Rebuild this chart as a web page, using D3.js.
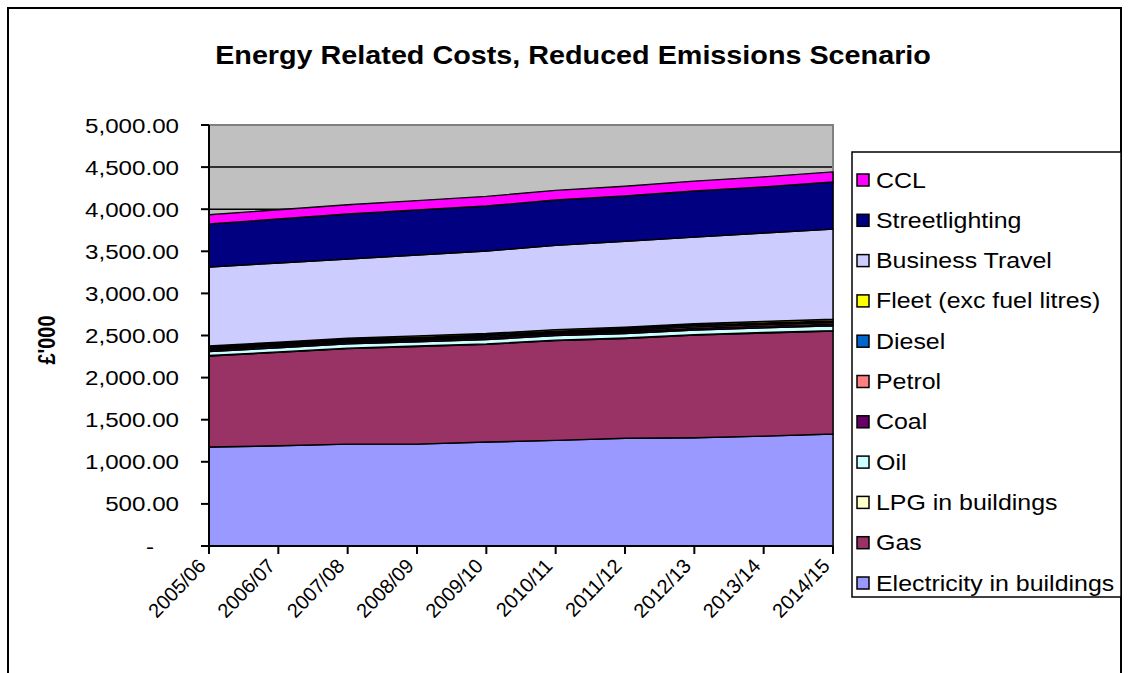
<!DOCTYPE html>
<html>
<head>
<meta charset="utf-8">
<script src="https://cdn.jsdelivr.net/npm/d3@7"></script>
<style>
  html, body { margin: 0; padding: 0; background: #fff; }
  svg { display: block; }
  text { font-family: "Liberation Sans", Arial, sans-serif; fill: #000; }
</style>
</head>
<body>
<svg id="chart" width="1129" height="673"></svg>
<script>
// Financial years on the category axis
const years = ["2005/06","2006/07","2007/08","2008/09","2009/10","2010/11","2011/12","2012/13","2013/14","2014/15"];

// Cost per energy source, £'000 (stacked bottom to top)
const electricity    = [1175, 1190, 1210, 1210, 1235, 1255, 1280, 1285, 1305, 1330];
const gas            = [1082, 1110, 1135, 1160, 1160, 1185, 1185, 1220, 1225, 1223];
const lpg            = [5, 5, 5, 5, 5, 5, 5, 5, 5, 5];
const oil            = [48, 49, 50, 51, 52, 53, 54, 55, 56, 57];
const coal           = [20, 20, 20, 20, 20, 20, 20, 20, 20, 20];
const petrol         = [15, 15, 16, 16, 17, 17, 18, 18, 19, 19];
const diesel         = [15, 15, 16, 16, 17, 17, 18, 18, 19, 19];
const fleet          = [15, 16, 16, 17, 17, 18, 18, 19, 19, 20];
const businessTravel = [938, 941, 940, 961, 980, 1000, 1022, 1028, 1049, 1070];
const streetlighting = [511, 522, 535, 534, 535, 539, 537, 548, 547, 560];
const ccl            = [110, 110, 110, 112, 114, 115, 116, 118, 120, 120];

const seriesNames = ["Electricity in buildings","Gas","LPG in buildings","Oil","Coal","Petrol","Diesel","Fleet (exc fuel litres)","Business Travel","Streetlighting","CCL"];
const seriesValues = [electricity, gas, lpg, oil, coal, petrol, diesel, fleet, businessTravel, streetlighting, ccl];
const seriesColors = ["#9999FF","#993366","#FFFFCC","#CCFFFF","#660066","#FF8080","#0066CC","#FFFF00","#CCCCFF","#000080","#FF00FF"];

// Axis ticks
const yTicks = [0, 500, 1000, 1500, 2000, 2500, 3000, 3500, 4000, 4500, 5000];
const yMax = 5000;

const title = "Energy Related Costs, Reduced Emissions Scenario";
const yTitle = "£'000";

// Horizontal stretch applied to upright lettering
const SX = 1.15;

const svg = d3.select("#chart");

// Outer chart frame
svg.append("rect")
  .attr("x", 8).attr("y", 8).attr("width", 1113).attr("height", 700)
  .attr("fill", "#fff").attr("stroke", "#000").attr("stroke-width", 2);

const plot = { left: 209, right: 833, top: 125, bottom: 546 };

const x = d3.scalePoint().domain(years).range([plot.left, plot.right]);
const y = d3.scaleLinear().domain([0, yMax]).range([plot.bottom, plot.top]);

// Plot background
svg.append("rect")
  .attr("x", plot.left).attr("y", plot.top)
  .attr("width", plot.right - plot.left).attr("height", plot.bottom - plot.top)
  .attr("fill", "#C0C0C0");

// Gridlines
svg.append("g").selectAll("line")
  .data(yTicks.filter(v => v > 0 && v < yMax))
  .join("line")
  .attr("x1", plot.left).attr("x2", plot.right)
  .attr("y1", d => y(d)).attr("y2", d => y(d))
  .attr("stroke", "#000").attr("stroke-width", 1.5);

// Plot border (top and right)
svg.append("path")
  .attr("d", `M${plot.left},${y(yMax)}H${plot.right}V${plot.bottom}`)
  .attr("fill", "none").attr("stroke", "#808080").attr("stroke-width", 2);

// Stacked areas
const table = years.map((yr, i) => {
  const row = { year: yr };
  seriesNames.forEach((n, k) => { row[n] = seriesValues[k][i]; });
  return row;
});
const stack = d3.stack().keys(seriesNames);
const layers = stack(table);

const area = d3.area()
  .x(d => x(d.data.year))
  .y0(d => y(d[0]))
  .y1(d => y(d[1]));

svg.append("g").selectAll("path")
  .data(layers)
  .join("path")
  .attr("d", area)
  .attr("fill", (d, i) => seriesColors[i])
  .attr("stroke", "#000")
  .attr("stroke-width", 1.4)
  .attr("stroke-linejoin", "round");

// Y axis
const yAxis = svg.append("g");
yAxis.append("line")
  .attr("x1", plot.left).attr("x2", plot.left)
  .attr("y1", plot.top).attr("y2", plot.bottom)
  .attr("stroke", "#000").attr("stroke-width", 2);
yAxis.selectAll("line.tick")
  .data(yTicks).join("line").attr("class", "tick")
  .attr("x1", plot.left - 8).attr("x2", plot.left)
  .attr("y1", d => y(d)).attr("y2", d => y(d))
  .attr("stroke", "#000").attr("stroke-width", 2);
const fmt = d3.format(",.2f");
yAxis.selectAll("text")
  .data(yTicks).join("text")
  .attr("transform", d => `translate(${d === 0 ? 154 : 179},${y(d) + 7.5}) scale(${SX},1)`)
  .attr("text-anchor", "end")
  .attr("font-size", 21)
  .text(d => d === 0 ? "-" : fmt(d));

// X axis
const xAxis = svg.append("g");
xAxis.append("line")
  .attr("x1", plot.left).attr("x2", plot.right)
  .attr("y1", plot.bottom).attr("y2", plot.bottom)
  .attr("stroke", "#000").attr("stroke-width", 2);
xAxis.selectAll("line.tick")
  .data(years).join("line").attr("class", "tick")
  .attr("x1", d => x(d)).attr("x2", d => x(d))
  .attr("y1", plot.bottom).attr("y2", plot.bottom + 8)
  .attr("stroke", "#000").attr("stroke-width", 2);
xAxis.selectAll("text")
  .data(years).join("text")
  .attr("transform", d => `translate(${x(d) - 2},${plot.bottom + 21}) rotate(-46)`)
  .attr("text-anchor", "end")
  .attr("font-size", 20)
  .text(d => d);

// Title
svg.append("text")
  .attr("transform", `translate(573,64) scale(${SX},1)`)
  .attr("text-anchor", "middle")
  .attr("font-size", 25)
  .attr("font-weight", "bold")
  .text(title);

// Y axis title
svg.append("text")
  .attr("transform", `translate(55,340) scale(${SX},1) rotate(-90)`)
  .attr("text-anchor", "middle")
  .attr("font-size", 20)
  .attr("font-weight", "bold")
  .text(yTitle);

// Legend (top series first)
const legend = svg.append("g");
legend.append("rect")
  .attr("x", 852).attr("y", 152).attr("width", 269).attr("height", 445)
  .attr("fill", "#fff").attr("stroke", "#000").attr("stroke-width", 1.5);
const legendOrder = seriesNames.map((n, i) => i).reverse();
const item = legend.selectAll("g.item")
  .data(legendOrder).join("g").attr("class", "item")
  .attr("transform", (d, j) => `translate(0,${180 + j * 40.3})`);
item.append("rect")
  .attr("x", 857).attr("y", -6).attr("width", 12).attr("height", 12)
  .attr("fill", d => seriesColors[d]).attr("stroke", "#000").attr("stroke-width", 1.5);
item.append("text")
  .attr("transform", `translate(876,7.5) scale(1.16,1)`)
  .attr("font-size", 21.5)
  .text(d => seriesNames[d]);
</script>
</body>
</html>
